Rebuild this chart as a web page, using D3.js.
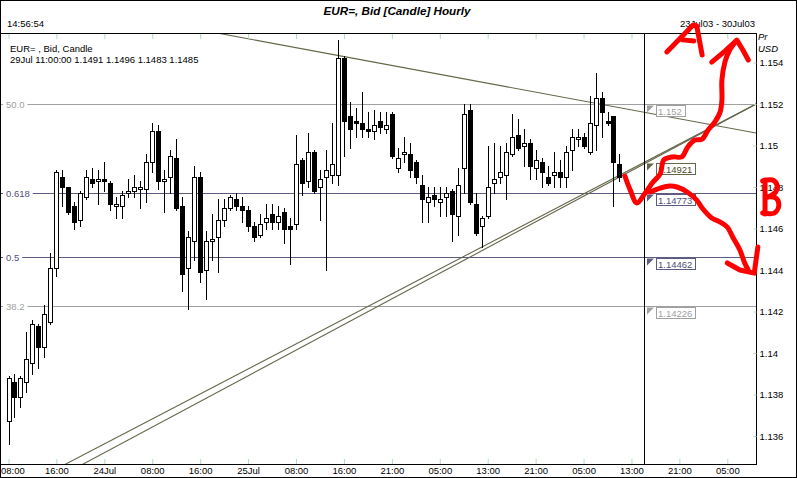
<!DOCTYPE html>
<html><head><meta charset="utf-8">
<script src="https://cdn.jsdelivr.net/npm/d3@7"></script>
<style>body{margin:0;background:#fff}svg{display:block;font-family:"Liberation Sans",Arial,sans-serif}</style>
</head><body><svg id="c" width="797" height="478"></svg>
<script>
const candleOpen = [
1.1367,1.1386,1.1379,1.1386,1.1395,1.1413,1.1403,1.1415,1.1441,1.1485,
1.1480,1.1471,1.1464,1.1475,1.1484,1.1483,1.1484,1.1482,1.1471,1.1471,
1.1477,1.1478,1.1479,1.1479,1.1492,1.1507,1.1483,1.1485,1.1494,1.1471,
1.1441,1.1454,1.1485,1.1440,1.1454,1.1456,1.1464,1.1470,1.1474,1.1471,
1.1469,1.1461,1.1457,1.1463,1.1467,1.1463,1.1468,1.1461,1.1462,1.1493,
1.1483,1.1497,1.1480,1.1485,1.1486,1.1486,1.1542,1.1514,1.1512,1.1511,
1.1508,1.1507,1.1512,1.1508,1.1515,1.1489,1.1496,1.1496,1.1492,1.1481,
1.1473,1.1476,1.1473,1.1475,1.1478,1.1466,1.1489,1.1517,1.1472,1.1461,
1.1466,1.1482,1.1485,1.1486,1.1496,1.1505,1.1500,1.1501,1.1489,1.1492,
1.1485,1.1486,1.1487,1.1485,1.1498,1.1503,1.1504,1.1497,1.1510,1.1523,
1.1512,1.1514,1.1491];
const candleHigh = [
1.1389,1.1390,1.1389,1.1410,1.1416,1.1414,1.1423,1.1448,1.1488,1.1488,
1.1480,1.1473,1.1478,1.1488,1.1489,1.1488,1.1492,1.1483,1.1475,1.1478,
1.1484,1.1486,1.1483,1.1496,1.1511,1.1510,1.1488,1.1498,1.1503,1.1475,
1.1459,1.1490,1.1487,1.1459,1.1467,1.1474,1.1474,1.1476,1.1477,1.1475,
1.1471,1.1463,1.1467,1.1472,1.1472,1.1471,1.1470,1.1465,1.1505,1.1494,
1.1506,1.1498,1.1488,1.1498,1.1511,1.1551,1.1543,1.1521,1.1518,1.1526,
1.1516,1.1517,1.1516,1.1516,1.1516,1.1499,1.1504,1.1501,1.1493,1.1486,
1.1480,1.1480,1.1480,1.1480,1.1479,1.1489,1.1520,1.1520,1.1477,1.1466,
1.1500,1.1501,1.1500,1.1501,1.1515,1.1513,1.1508,1.1503,1.1498,1.1494,
1.1490,1.1497,1.1493,1.1500,1.1508,1.1508,1.1506,1.1524,1.1535,1.1526,
1.1516,1.1514,1.1496];
const candleLow = [
1.1356,1.1369,1.1374,1.1381,1.1390,1.1393,1.1398,1.1414,1.1437,1.1471,
1.1467,1.1460,1.1461,1.1474,1.1480,1.1472,1.1478,1.1469,1.1465,1.1465,
1.1475,1.1475,1.1470,1.1473,1.1487,1.1479,1.1468,1.1477,1.1469,1.1430,
1.1421,1.1445,1.1434,1.1426,1.1445,1.1439,1.1461,1.1469,1.1469,1.1463,
1.1459,1.1454,1.1456,1.1460,1.1460,1.1460,1.1453,1.1443,1.1460,1.1476,
1.1480,1.1477,1.1464,1.1440,1.1482,1.1481,1.1495,1.1499,1.1504,1.1504,
1.1504,1.1503,1.1506,1.1506,1.1494,1.1487,1.1492,1.1485,1.1482,1.1463,
1.1463,1.1471,1.1466,1.1466,1.1454,1.1457,1.1477,1.1472,1.1457,1.1451,
1.1465,1.1477,1.1482,1.1474,1.1495,1.1498,1.1490,1.1484,1.1484,1.1480,
1.1481,1.1480,1.1480,1.1480,1.1488,1.1500,1.1499,1.1496,1.1498,1.1504,
1.1510,1.1471,1.1483];
const candleClose = [
1.1388,1.1379,1.1388,1.1397,1.1414,1.1403,1.1419,1.1441,1.1487,1.1480,
1.1468,1.1463,1.1477,1.1485,1.1482,1.1484,1.1483,1.1472,1.1472,1.1476,
1.1478,1.1480,1.1480,1.1492,1.1507,1.1483,1.1484,1.1495,1.1470,1.1438,
1.1456,1.1485,1.1439,1.1454,1.1455,1.1464,1.1470,1.1475,1.1471,1.1469,
1.1461,1.1456,1.1462,1.1465,1.1463,1.1466,1.1460,1.1460,1.1491,1.1482,
1.1497,1.1478,1.1484,1.1488,1.1491,1.1542,1.1512,1.1508,1.1511,1.1508,
1.1507,1.1510,1.1509,1.1510,1.1495,1.1494,1.1497,1.1488,1.1485,1.1474,
1.1475,1.1474,1.1474,1.1477,1.1467,1.1481,1.1515,1.1473,1.1458,1.1465,
1.1480,1.1484,1.1487,1.1497,1.1504,1.1499,1.1501,1.1490,1.1493,1.1487,
1.1482,1.1487,1.1485,1.1497,1.1504,1.1504,1.1500,1.1511,1.1523,1.1516,
1.1511,1.1492,1.1485];

const xTickIndex = [0,8,16,24,32,40,48,56,64,72,80,88,96,104,112,120];
const xTickLabels = ["08:00","16:00","24Jul","08:00","16:00","25Jul","08:00","16:00","21:00","05:00","13:00","21:00","05:00","13:00","21:00","05:00"];
const priceTicks = [1.136,1.138,1.14,1.142,1.144,1.146,1.148,1.15,1.152,1.154];
const priceTickLabels = ["1.136","1.138","1.14","1.142","1.144","1.146","1.148","1.15","1.152","1.154"];
const fibNames = ["50.0","0.618","0.5","38.2"];
const fibLevels = [1.152,1.14773,1.14462,1.14226];
const fibBoxLabels = ["1.152","1.14773","1.14462","1.14226"];
const trendDown = [[35.8,1.15537],[124.8,1.1506]];
const trendUpA = [[9.9,1.1347],[124.8,1.1520]];
const trendUpB = [[12.8,1.1347],[124.8,1.1520]];
const trendCross = 1.14921;
const trendCrossLabel = "1.14921";
const titleText = "EUR=, Bid [Candle] Hourly";
const clockText = "14:56:54";
const rangeText = "23Jul03 - 30Jul03";
const legendLine1 = "EUR= , Bid, Candle";
const legendLine2 = "29Jul 11:00:00 1.1491 1.1496 1.1483 1.1485";
// hand-drawn red annotations, in (bar index, price) units
const annoA = [[109.9,1.15451],[114.3,1.15581],[114.9,1.15576],[115.8,1.15436]];
const annoABar = [[112.6,1.15509],[114.4,1.15504]];
const annoUp = [[102.9,1.14853],[103.8,1.14785],[104.9,1.14723],[106.3,1.14771],[107.6,1.14824],[108.8,1.14863],[109.4,1.1493],[110.9,1.14945],[112.4,1.14945],[113.4,1.14993],[114.6,1.15026],[115.8,1.15031],[116.8,1.15075],[117.9,1.15113],[118.8,1.15161],[119.1,1.15219],[119.1,1.15316],[119.6,1.15402],[120.4,1.1546],[121.5,1.15504]];
const annoUpHead = [[117.4,1.15402],[119.6,1.15455],[121.6,1.15508],[122.6,1.1546],[123.5,1.15412]];
const annoDown = [[107.1,1.14776],[108.8,1.14795],[110.4,1.14805],[111.6,1.148],[113.3,1.14776],[114.9,1.14737],[115.8,1.14699],[117.4,1.14651],[118.8,1.14631],[120.0,1.14607],[120.9,1.14559],[122.1,1.14496],[122.9,1.14434],[123.5,1.144]];
const annoDownHead = [[120.0,1.14434],[122.1,1.144],[124.5,1.14385],[125.1,1.14511]];
const annoBStem = [[126.3,1.14834],[126.3,1.1467]];
const annoBTop = [[125.9,1.14829],[127.5,1.14834],[128.3,1.1481],[128.1,1.14776],[126.8,1.14752]];
const annoBBottom = [[126.5,1.14752],[128.1,1.14747],[128.6,1.14713],[127.9,1.14675],[125.9,1.14675]];

const W = 797, H = 478;
const plotL = 1, plotT = 33, plotR = 756, plotB = 464, sepX = 644;
const svg = d3.select("#c");
const FS = 9.5;

const x = d3.scaleLinear().domain([0,104]).range([8.5, 8.5 + 5.99*104]);
const y = d3.scaleLinear().domain([1.136,1.152]).range([436,104]);

svg.append("rect").attr("x",0).attr("y",0).attr("width",W).attr("height",H).attr("fill","#fff");

// title & header texts
svg.append("text").attr("x",397).attr("y",15).attr("text-anchor","middle")
  .attr("font-size",11.7).attr("font-weight","bold").attr("font-style","italic").text(titleText);
svg.append("text").attr("x",7).attr("y",27).attr("font-size",FS).text(clockText);
svg.append("text").attr("x",755).attr("y",27).attr("text-anchor","end").attr("font-size",FS).text(rangeText);
svg.append("text").attr("x",758).attr("y",40).attr("font-size",FS).attr("font-style","italic").text("Pr");
svg.append("text").attr("x",758).attr("y",52).attr("font-size",FS).attr("font-style","italic").text("USD");

const defs = svg.append("defs");
defs.append("clipPath").attr("id","pc").append("rect")
  .attr("x",plotL).attr("y",plotT+1).attr("width",plotR-plotL).attr("height",plotB-plotT-1);
const plot = svg.append("g").attr("clip-path","url(#pc)");

// fib lines
const fibColors = ["#a0a0a0","#5c5c80","#5c5c80","#a0a0a0"];
const fibText = ["#a0a0a0","#50507a","#50507a","#a0a0a0"];
fibLevels.forEach((lv,k)=>{
  const yy = Math.round(y(lv))+0.5;
  plot.append("line").attr("x1",plotL).attr("x2",plotR).attr("y1",yy).attr("y2",yy)
    .attr("stroke",fibColors[k]).attr("stroke-width",1).attr("shape-rendering","crispEdges");
});

// trend lines
const tl = d3.line().x(d=>x(d[0])).y(d=>y(d[1]));
const trendColor = "#66664a";
[trendDown,trendUpA,trendUpB].forEach(t=>{
  const [a,b] = t;
  const s = (b[1]-a[1])/(b[0]-a[0]);
  const i0 = x.invert(plotL-5), i1 = x.invert(plotR);
  const ext = t===trendDown ? [[i0, a[1]+s*(i0-a[0])],[i1, a[1]+s*(i1-a[0])]]
                            : [[a[0]-3, a[1]-s*3],[i1, a[1]+s*(i1-a[0])]];
  plot.append("path").attr("d",tl(ext)).attr("fill","none").attr("stroke",trendColor).attr("stroke-width",1.1);
});

// candles
const candles = plot.append("g").attr("shape-rendering","crispEdges");
candleOpen.forEach((o,i)=>{
  const c = candleClose[i], h = candleHigh[i], l = candleLow[i];
  const cx = Math.round(x(i));
  const up = c >= o;
  candles.append("line").attr("x1",cx+0.5).attr("x2",cx+0.5)
    .attr("y1",Math.round(y(h))).attr("y2",Math.round(y(l))+1).attr("stroke","#000");
  const yt = Math.round(y(Math.max(o,c))), yb = Math.round(y(Math.min(o,c)));
  candles.append("rect").attr("x",cx-1.5).attr("y",yt+0.5).attr("width",4).attr("height",Math.max(yb-yt,1))
    .attr("fill",up?"#fff":"#000").attr("stroke","#000");
});

// left fib labels
fibLevels.forEach((lv,k)=>{
  const yy = Math.round(y(lv))+0.5;
  const t = svg.append("text").attr("x",6).attr("y",yy+3.5).attr("font-size",FS).attr("fill",fibText[k]).text(fibNames[k]);
  const w = t.node().getComputedTextLength();
  svg.insert("rect","text:last-of-type").attr("x",3).attr("y",yy-4).attr("width",w+6).attr("height",8).attr("fill","#fff");
  t.raise();
});

// frame lines
const frame = svg.append("g").attr("stroke","#000").attr("shape-rendering","crispEdges");
frame.append("rect").attr("x",0.5).attr("y",0.5).attr("width",W-1).attr("height",H-1).attr("fill","none");
frame.append("line").attr("x1",0).attr("x2",plotR).attr("y1",plotT+0.5).attr("y2",plotT+0.5);
frame.append("line").attr("x1",0).attr("x2",plotR).attr("y1",plotB+0.5).attr("y2",plotB+0.5);
frame.append("line").attr("x1",sepX+0.5).attr("x2",sepX+0.5).attr("y1",plotT).attr("y2",plotB);
frame.append("line").attr("x1",plotR+0.5).attr("x2",plotR+0.5).attr("y1",plotT).attr("y2",plotB+1);

// right panel labels
function boxLabel(val, txt, stroke, tcol, tri){
  const yy = Math.round(y(val))+0.5;
  svg.append("path").attr("d",`M647,${yy+1}L654,${yy+1}L647,${yy+8}Z`).attr("fill",tri);
  const t = svg.append("text").attr("x",658).attr("y",yy+10).attr("font-size",FS).attr("fill",tcol).text(txt);
  const w = t.node().getComputedTextLength();
  svg.insert("rect","text:last-of-type").attr("x",656.5).attr("y",yy+1).attr("width",Math.round(w)+5).attr("height",11)
    .attr("fill","#fff").attr("stroke",stroke).attr("shape-rendering","crispEdges");
  t.raise();
}
fibLevels.forEach((lv,k)=>boxLabel(lv, fibBoxLabels[k], fibColors[k], fibText[k], fibColors[k]));
boxLabel(trendCross, trendCrossLabel, "#66664a", "#4a4a2a", "#66664a");

// axes
const axR = d3.axisRight(y).tickValues(priceTicks).tickFormat((d,i)=>priceTickLabels[i])
  .tickSizeInner(-3).tickSizeOuter(0).tickPadding(3);
const gR = svg.append("g").attr("transform",`translate(${plotR+0.5},0)`).call(axR);
gR.select(".domain").remove();
gR.selectAll(".tick line").attr("stroke","#b8d8b8");
gR.selectAll("text").attr("font-size",FS).attr("font-family","Liberation Sans, Arial, sans-serif").attr("fill","#000");

const axB = d3.axisBottom(x).tickValues(xTickIndex).tickFormat((d,i)=>xTickLabels[i])
  .tickSizeInner(-5).tickSizeOuter(0).tickPadding(3);
const gB = svg.append("g").attr("transform",`translate(0,${plotB})`).call(axB);
gB.select(".domain").remove();
gB.selectAll(".tick line").attr("stroke","#b8d8b8");
gB.selectAll("text").attr("font-size",FS).attr("font-family","Liberation Sans, Arial, sans-serif").attr("fill","#000");
gB.selectAll(".tick").filter((d,i)=>i===0).select("text").attr("text-anchor","start").attr("x",-8);

const axT = d3.axisTop(x).tickValues(xTickIndex).tickFormat("").tickSizeInner(-5).tickSizeOuter(0);
const gT = svg.append("g").attr("transform",`translate(0,${plotT+1})`).call(axT);
gT.select(".domain").remove();
gT.selectAll(".tick line").attr("stroke","#b8d8b8");
gT.selectAll(".tick").filter(d=>x(d)>plotR-2).remove();

// legend
svg.append("text").attr("x",10).attr("y",52).attr("font-size",FS).text(legendLine1);
svg.append("text").attr("x",10).attr("y",63).attr("font-size",FS).text(legendLine2);

// red annotations
const red = svg.append("g").attr("fill","none").attr("stroke","#f00").attr("stroke-width",5)
  .attr("stroke-linecap","round").attr("stroke-linejoin","round");
const al = d3.line().x(d=>x(d[0])).y(d=>y(d[1]));
const ac = d3.line().x(d=>x(d[0])).y(d=>y(d[1])).curve(d3.curveCatmullRom);
[annoA, annoABar, annoUpHead, annoDownHead, annoBStem].forEach(p=>red.append("path").attr("d",al(p)));
[annoUp, annoDown, annoBTop, annoBBottom].forEach(p=>red.append("path").attr("d",ac(p)));
</script></body></html>
